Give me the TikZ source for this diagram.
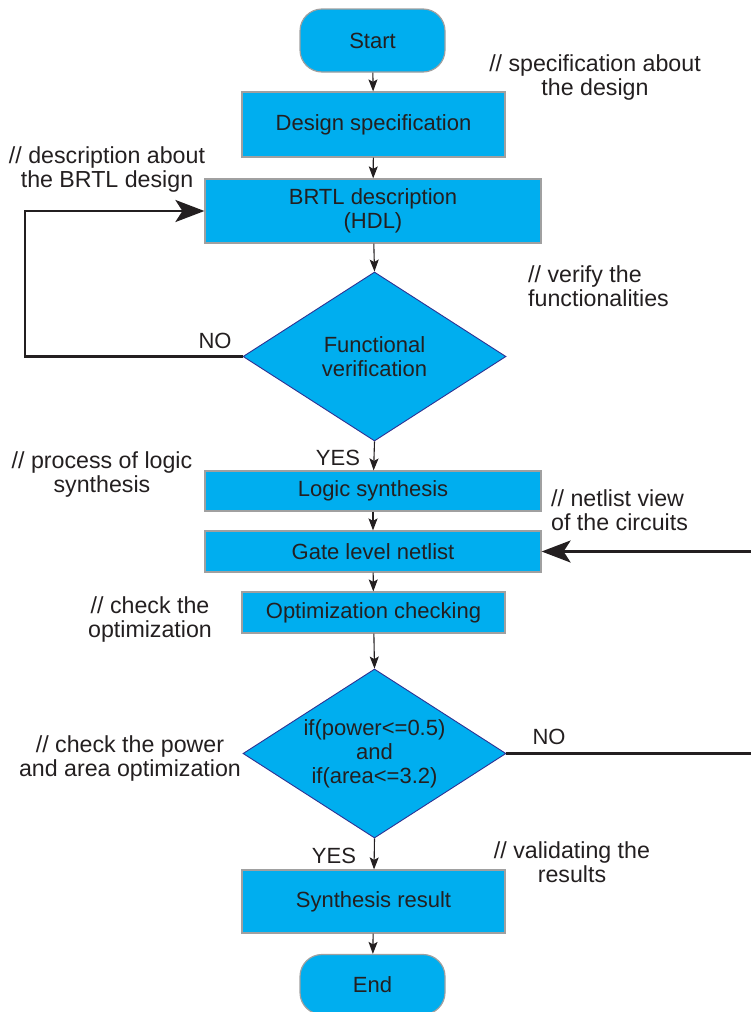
\documentclass[tikz,border=0pt]{standalone}
\usepackage{fontspec}
\setmainfont{Liberation Sans}
\usetikzlibrary{shapes.geometric,arrows.meta}
\definecolor{boxfill}{HTML}{00AEEF}
\definecolor{boxedge}{HTML}{A0A0A0}
\definecolor{decedge}{HTML}{2E3192}
\definecolor{ink}{HTML}{231F20}

\begin{document}
\begin{tikzpicture}[x=1pt,y=-1pt,
  font=\fontsize{22}{24}\selectfont, text=ink,
  proc/.style={draw=boxedge, line width=1.2pt, fill=boxfill, inner sep=0pt, align=center},
  term/.style={proc, rounded corners=22pt, minimum width=145pt},
  decision/.style={diamond, draw=decedge, line width=0.9pt, fill=boxfill, inner sep=0pt,
                   minimum width=263pt, minimum height=169pt},
  note/.style={align=center, inner sep=0pt, font=\fontsize{23.2}{24}\selectfont},
  lnote/.style={note, align=left, anchor=west},
  flow/.style={draw=ink, line width=1.1pt, -{Stealth[length=12pt,width=9pt,inset=2.5pt]}},
  back/.style={draw=ink, line width=2.6pt, -{Stealth[length=29pt,width=22pt,inset=7pt]}}]

\useasboundingbox (0,0) rectangle (751,1012);

% main column
\node[term, minimum height=63pt] (start) at (372.5,40.5) {Start};
\node[proc, minimum width=263pt, minimum height=65pt] (spec) at (373.5,124.5) {Design specification};
\node[proc, minimum width=336pt, minimum height=64pt] (brtl) at (373,211) {BRTL description\\(HDL)};
\node[decision] (dec1) at (374.5,356.5) {};
\node[align=center, inner sep=0pt] (dec1txt) at (dec1) {Functional\\verification};
\node[proc, minimum width=336pt, minimum height=40pt] (logic) at (373,491) {Logic synthesis};
\node[proc, minimum width=336pt, minimum height=41pt] (gate) at (373,551.5) {Gate level netlist};
\node[proc, minimum width=263pt, minimum height=41pt] (opt) at (373.5,612.5) {Optimization checking};
\node[decision] (dec2) at (374.5,753.5) {};
\node[align=center, inner sep=0pt] (dec2txt) at (dec2) {if(power<=0.5)\\and\\if(area<=3.2)};
\node[proc, minimum width=263pt, minimum height=63pt] (result) at (373.5,901.5) {Synthesis result};
\node[term, minimum height=60pt] (end) at (372.5,984.5) {End};

% forward flow
\draw[flow] (start) -- (spec);
\draw[flow] (spec) -- (brtl);
\draw[flow] (brtl) -- (dec1.north);
\draw[flow] (dec1.south) -- (logic);
\draw[flow] (logic) -- (gate);
\draw[flow] (gate) -- (opt);
\draw[flow] (opt) -- (dec2.north);
\draw[flow] (dec2.south) -- (result);
\draw[flow] (result) -- (end);

% feedback loops
\coordinate (leftrail) at (25,0);
\coordinate (rightrail) at (752,0);
\draw[back] (dec1.west) -- (dec1.west -| leftrail) |- (brtl.west);
\draw[back] (dec2.east) -- (dec2.east -| rightrail) |- (gate.east);

% branch labels
\node (no1) at (215,341) {NO};
\node (yes1) at (338,458) {YES};
\node (no2) at (549,737) {NO};
\node (yes2) at (334,856) {YES};

% comments
\node[note] (c1) at (595,77) {// specification about\\the design};
\node[note] (c2) at (107,169) {// description about\\the BRTL design};
\node[lnote] (c3) at (528,286) {// verify the\\functionalities};
\node[note] (c4) at (102,474) {// process of logic\\synthesis};
\node[lnote] (c5) at (551,510) {// netlist view\\of the circuits};
\node[note] (c6) at (150,619) {// check the\\optimization};
\node[note] (c7) at (130,758) {// check the power\\and area optimization};
\node[note] (c8) at (572,862) {// validating the\\results};
\end{tikzpicture}
\end{document}
